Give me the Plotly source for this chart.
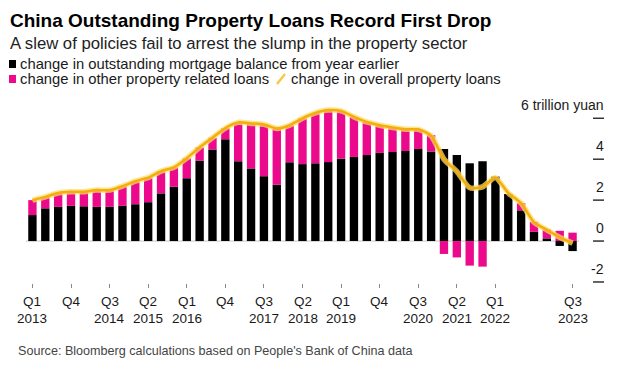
import plotly.graph_objects as go

# ---------------- data ----------------
years = list(range(2013, 2024))
quarters = [f"Q{q} {y}" for y in years for q in (1, 2, 3, 4)][:43]  # Q1 2013 .. Q3 2023

mortgage_change = [1.27, 1.6, 1.67, 1.72, 1.7, 1.67, 1.67, 1.72, 1.8, 1.9,
                   2.33, 2.65, 3.07, 3.93, 4.47, 4.97, 3.9, 3.55, 3.17, 2.75,
                   3.85, 3.76, 3.8, 3.86, 4.03, 4.11, 4.2, 4.31, 4.35, 4.4,
                   4.5, 4.38, 4.5, 4.2, 3.8, 3.9, 3.15, 2.3, 1.5, 0.45,
                   0.13, -0.24, -0.49]
other_change = [0.73, 0.56, 0.68, 0.69, 0.71, 0.82, 0.82, 0.96, 1.13, 1.2,
                1.09, 0.95, 0.98, 0.65, 0.58, 0.55, 1.9, 2.2, 2.53, 2.75,
                1.81, 2.24, 2.46, 2.54, 2.33, 1.96, 1.62, 1.35, 1.2, 1.06,
                0.96, 0.8, -0.63, -0.8, -1.2, -1.25, 0.0, 0.0, 0.36, 0.49,
                0.44, 0.5, 0.41]
overall_change = [2.0, 2.16, 2.35, 2.41, 2.41, 2.49, 2.49, 2.68, 2.93, 3.1,
                  3.42, 3.6, 4.05, 4.58, 5.05, 5.52, 5.8, 5.75, 5.7, 5.5,
                  5.66, 6.0, 6.26, 6.4, 6.36, 6.07, 5.82, 5.66, 5.55, 5.46,
                  5.46, 5.15, 4.0, 3.4, 2.6, 2.65, 3.1, 2.35, 1.85, 0.92,
                  0.55, 0.18, -0.1]

tick_quarters = ["Q1 2013", "Q4 2013", "Q3 2014", "Q2 2015", "Q1 2016", "Q4 2016",
                 "Q3 2017", "Q2 2018", "Q1 2019", "Q4 2019", "Q3 2020", "Q2 2021",
                 "Q1 2022", "Q3 2023"]
tick_top = ["Q1", "Q4", "Q3", "Q2", "Q1", "Q4", "Q3", "Q2", "Q1", "Q4", "Q3", "Q2", "Q1", "Q3"]
tick_bottom = ["2013", "", "2014", "2015", "2016", "", "2017", "2018", "2019", "", "2020",
               "2021", "2022", "2023"]
y_ticks = [6, 4, 2, 0, -2]
y_tick_text = ["6 trillion yuan", "4", "2", "0", "-2"]

# ---------------- layout geometry ----------------
# The page body has an 8px default margin, so the figure is drawn 8px smaller
# and all page-pixel positions below are shifted by OFF.
OFF = 8
W, H = 620 - OFF, 368 - OFF
ML, MR, MT, MB = 26 - OFF, 41, 106 - OFF, 85
PW, PH = W - ML - MR, H - MT - MB

def px(x):  # page pixel -> paper
    return (x - OFF - ML) / PW

def py(y):  # page pixel -> paper
    return 1 - (y - OFF - MT) / PH

FONT = "Liberation Sans, Arial, sans-serif"
BLACK = "#000000"
PINK = "#ec0a8c"
YELLOW = "#f3ae0c"

fig = go.Figure()
fig.add_trace(go.Bar(x=quarters, y=mortgage_change, marker=dict(color=BLACK, line=dict(width=0)),
                     name="change in outstanding mortgage balance from year earlier"))
fig.add_trace(go.Bar(x=quarters, y=other_change, marker=dict(color=PINK, line=dict(width=0)),
                     name="change in other property related loans"))
fig.add_trace(go.Scatter(x=quarters, y=overall_change, mode="lines",
                         line=dict(color="rgba(255,222,110,0.75)", width=5.5, shape="spline", smoothing=0.6),
                         hoverinfo="skip", showlegend=False))
fig.add_trace(go.Scatter(x=quarters, y=overall_change, mode="lines",
                         line=dict(color=YELLOW, width=2.5, shape="spline", smoothing=0.6),
                         name="change in overall property loans"))

shapes = []
# zero line
shapes.append(dict(type="line", xref="paper", yref="y", x0=0, x1=1, y0=0, y1=0,
                   line=dict(color="#c8c8c8", width=1), layer="below"))
# y tick dashes
for v in y_ticks:
    shapes.append(dict(type="line", xref="paper", yref="y", x0=px(593), x1=px(604), y0=v, y1=v,
                       line=dict(color="#333333", width=1.5)))
# legend swatches
shapes.append(dict(type="rect", xref="paper", yref="paper", x0=px(9), x1=px(16), y0=py(68), y1=py(60),
                   fillcolor=BLACK, line=dict(width=0)))
shapes.append(dict(type="rect", xref="paper", yref="paper", x0=px(9), x1=px(16), y0=py(83), y1=py(75),
                   fillcolor=PINK, line=dict(width=0)))
shapes.append(dict(type="line", xref="paper", yref="paper", x0=px(277), x1=px(285), y0=py(84), y1=py(74),
                   line=dict(color="#f7c948", width=2.5)))

annotations = []
def txt(x, y, s, size, color="#1a1a1a", bold=False, anchor="left"):
    annotations.append(dict(xref="paper", yref="paper", x=px(x), y=py(y), text=(f"<b>{s}</b>" if bold else s),
                            showarrow=False, xanchor=anchor, yanchor="middle",
                            font=dict(family=FONT, size=size, color=color)))

txt(8, 20, "China Outstanding Property Loans Record First Drop", 19, "#000000", bold=True)
txt(8, 43, "A slew of policies fail to arrest the slump in the property sector", 16.7, "#222222")
txt(18, 64, "change in outstanding mortgage balance from year earlier", 14.8, "#1a1a1a")
txt(18, 79, "change in other property related loans", 14.8, "#1a1a1a")
txt(289, 79, "change in overall property loans", 14.8, "#1a1a1a")
txt(16, 351, "Source: Bloomberg calculations based on People's Bank of China data", 12.6, "#444444")

for v, s in zip(y_ticks, y_tick_text):
    annotations.append(dict(xref="paper", yref="y", x=px(606), y=v, yshift=13, text=s, showarrow=False,
                            xanchor="right", yanchor="middle",
                            font=dict(family=FONT, size=14, color="#1a1a1a")))

for q, top, bot in zip(tick_quarters, tick_top, tick_bottom):
    annotations.append(dict(xref="x", yref="paper", x=q, y=py(301), text=top, showarrow=False,
                            xanchor="center", yanchor="middle",
                            font=dict(family=FONT, size=13.5, color="#1a1a1a")))
    if bot:
        annotations.append(dict(xref="x", yref="paper", x=q, y=py(318), text=bot, showarrow=False,
                                xanchor="center", yanchor="middle",
                                font=dict(family=FONT, size=13.5, color="#1a1a1a")))

fig.update_layout(
    width=W, height=H,
    margin=dict(l=ML, r=MR, t=MT, b=MB, pad=0),
    paper_bgcolor="white", plot_bgcolor="white",
    barmode="relative", bargap=0.35,
    showlegend=False,
    shapes=shapes, annotations=annotations,
    font=dict(family=FONT, size=13, color="#1a1a1a"),
    xaxis=dict(type="category", categoryorder="array", categoryarray=quarters,
               range=[-0.5, 42.5], tickmode="array", tickvals=tick_quarters,
               showticklabels=False,
               ticks="outside", ticklen=4, tickwidth=1, tickcolor="#888888",
               showgrid=False, showline=False, zeroline=False),
    yaxis=dict(range=[-2.05, 6.6], showticklabels=False, showgrid=False, zeroline=False,
               showline=False, ticks=""),
)

fig.write_html("out.html")
